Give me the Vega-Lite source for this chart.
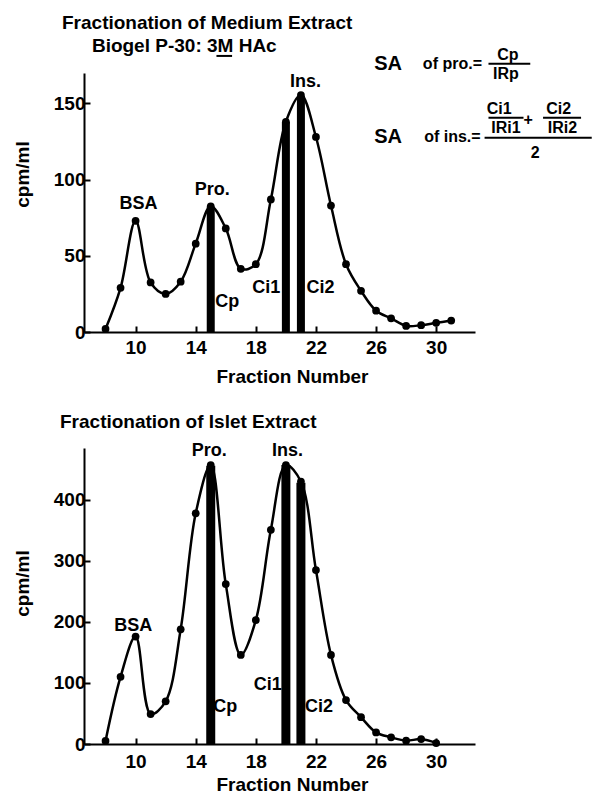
{
  "$schema": "https://vega.github.io/schema/vega-lite/v6.json",
  "background": "white",
  "padding": {"left": 13, "top": 13, "right": 0, "bottom": 0},
  "spacing": 27,
  "config": {
    "font": "Liberation Sans",
    "view": {"stroke": null},
    "axis": {
      "grid": false,
      "domainColor": "black", "domainWidth": 2,
      "tickColor": "black", "tickWidth": 2, "tickSize": -6,
      "labelColor": "black", "labelFont": "Liberation Sans", "labelFontWeight": "bold", "labelFontSize": 19,
      "titleColor": "black", "titleFont": "Liberation Sans", "titleFontWeight": "bold", "titleFontSize": 19
    },
    "title": {"font": "Liberation Sans", "fontWeight": "bold", "fontSize": 19, "color": "black", "anchor": "start", "frame": "group"},
    "text": {"font": "Liberation Sans", "fontWeight": "bold", "color": "black"}
  },
  "datasets": {
    "medium": [
      {"fraction": 8, "cpm": 2}, {"fraction": 9, "cpm": 29}, {"fraction": 10, "cpm": 73},
      {"fraction": 11, "cpm": 32.5}, {"fraction": 12, "cpm": 25}, {"fraction": 13, "cpm": 33},
      {"fraction": 14, "cpm": 58}, {"fraction": 15, "cpm": 82.5}, {"fraction": 16, "cpm": 68},
      {"fraction": 17, "cpm": 41.5}, {"fraction": 18, "cpm": 44.5}, {"fraction": 19, "cpm": 87},
      {"fraction": 20, "cpm": 138}, {"fraction": 21, "cpm": 155.5}, {"fraction": 22, "cpm": 128},
      {"fraction": 23, "cpm": 83}, {"fraction": 24, "cpm": 44.5}, {"fraction": 25, "cpm": 27},
      {"fraction": 26, "cpm": 14}, {"fraction": 27, "cpm": 9}, {"fraction": 28, "cpm": 4},
      {"fraction": 29, "cpm": 4.5}, {"fraction": 30, "cpm": 6}, {"fraction": 31, "cpm": 7.5}
    ],
    "medium_bars": [
      {"fraction": 15, "cpm": 82}, {"fraction": 20, "cpm": 138}, {"fraction": 21, "cpm": 155}
    ],
    "medium_labels": [
      {"fraction": 10.2, "cpm": 84, "label": "BSA"},
      {"fraction": 15.1, "cpm": 93, "label": "Pro."},
      {"fraction": 21.3, "cpm": 164, "label": "Ins."},
      {"fraction": 16.1, "cpm": 20, "label": "Cp"},
      {"fraction": 18.7, "cpm": 29, "label": "Ci1"},
      {"fraction": 22.3, "cpm": 29, "label": "Ci2"}
    ],
    "formula_text": [
      {"fraction": 31.08, "cpm": 176, "label": "of pro.="},
      {"fraction": 34.77, "cpm": 181.5, "label": "Cp"},
      {"fraction": 34.64, "cpm": 169.2, "label": "IRp"},
      {"fraction": 31.08, "cpm": 128.2, "label": "of ins.="},
      {"fraction": 34.19, "cpm": 146.5, "label": "Ci1"},
      {"fraction": 34.64, "cpm": 134.1, "label": "IRi1"},
      {"fraction": 36.12, "cpm": 139.3, "label": "+"},
      {"fraction": 38.15, "cpm": 146.5, "label": "Ci2"},
      {"fraction": 38.4, "cpm": 134.1, "label": "IRi2"},
      {"fraction": 36.59, "cpm": 117.7, "label": "2"}
    ],
    "formula_sa": [
      {"fraction": 26.8, "cpm": 176, "label": "SA"},
      {"fraction": 26.8, "cpm": 128.2, "label": "SA"}
    ],
    "formula_rules": [
      {"fraction": 33.48, "fraction2": 36.26, "cpm": 176},
      {"fraction": 33.48, "fraction2": 35.81, "cpm": 140.6},
      {"fraction": 37.11, "fraction2": 39.64, "cpm": 140.6},
      {"fraction": 33.22, "fraction2": 40.35, "cpm": 127.5},
      {"fraction": 15.38, "fraction2": 16.42, "cpm": 181.2}
    ],
    "subtitle": [
      {"fraction": 13.24, "cpm": 188, "label": "Biogel P-30: 3M HAc"}
    ],
    "islet": [
      {"fraction": 8, "cpm": 5}, {"fraction": 9, "cpm": 110}, {"fraction": 10, "cpm": 176},
      {"fraction": 11, "cpm": 49}, {"fraction": 12, "cpm": 70}, {"fraction": 13, "cpm": 188},
      {"fraction": 14, "cpm": 378}, {"fraction": 15, "cpm": 457}, {"fraction": 16, "cpm": 262},
      {"fraction": 17, "cpm": 146}, {"fraction": 18, "cpm": 203}, {"fraction": 19, "cpm": 351},
      {"fraction": 20, "cpm": 457}, {"fraction": 21, "cpm": 430}, {"fraction": 22, "cpm": 285},
      {"fraction": 23, "cpm": 146}, {"fraction": 24, "cpm": 72}, {"fraction": 25, "cpm": 44},
      {"fraction": 26, "cpm": 19}, {"fraction": 27, "cpm": 11}, {"fraction": 28, "cpm": 5.5},
      {"fraction": 29, "cpm": 8}, {"fraction": 30, "cpm": 1.5}
    ],
    "islet_bars": [
      {"fraction": 15, "cpm": 456}, {"fraction": 20, "cpm": 457}, {"fraction": 21, "cpm": 428}
    ],
    "islet_labels": [
      {"fraction": 9.84, "cpm": 193, "label": "BSA"},
      {"fraction": 14.9, "cpm": 480, "label": "Pro."},
      {"fraction": 20.1, "cpm": 480, "label": "Ins."},
      {"fraction": 15.97, "cpm": 60, "label": "Cp"},
      {"fraction": 18.8, "cpm": 97, "label": "Ci1"},
      {"fraction": 22.2, "cpm": 60, "label": "Ci2"}
    ]
  },
  "vconcat": [
    {
      "width": 391,
      "height": 259,
      "title": {"text": "Fractionation of Medium Extract", "dx": -22, "offset": 4},
      "encoding": {
        "x": {"field": "fraction", "type": "quantitative",
              "scale": {"domain": [6.9, 32.25], "nice": false, "zero": false},
              "axis": {"values": [10, 14, 18, 22, 26, 30], "title": "Fraction Number", "titleX": 208, "labelPadding": 12, "titlePadding": 10}},
        "y": {"field": "cpm", "type": "quantitative",
              "scale": {"domain": [0, 170], "nice": false},
              "axis": {"values": [0, 50, 100, 150], "title": "cpm/ml", "titleX": -52, "titleY": 101, "labelPadding": 5}}
      },
      "layer": [
        {"data": {"name": "medium_bars"}, "mark": {"type": "bar", "size": 8, "color": "black"}},
        {"data": {"name": "medium"}, "mark": {"type": "line", "interpolate": "catmull-rom", "color": "black", "strokeWidth": 2.5}},
        {"data": {"name": "medium"}, "mark": {"type": "circle", "size": 60, "color": "black", "opacity": 1}},
        {"data": {"name": "medium_labels"}, "mark": {"type": "text", "fontSize": 18, "baseline": "middle"}, "encoding": {"text": {"field": "label"}}},
        {"data": {"name": "formula_text"}, "mark": {"type": "text", "fontSize": 16, "baseline": "middle"}, "encoding": {"text": {"field": "label"}}},
        {"data": {"name": "formula_sa"}, "mark": {"type": "text", "fontSize": 20, "baseline": "middle"}, "encoding": {"text": {"field": "label"}}},
        {"data": {"name": "subtitle"}, "mark": {"type": "text", "fontSize": 19, "baseline": "middle"}, "encoding": {"text": {"field": "label"}}},
        {"data": {"name": "formula_rules"}, "mark": {"type": "rule", "strokeWidth": 2, "color": "black"}, "encoding": {"x2": {"field": "fraction2"}}}
      ]
    },
    {
      "width": 391,
      "height": 296,
      "title": {"text": "Fractionation of Islet Extract", "dx": -24, "offset": 10},
      "encoding": {
        "x": {"field": "fraction", "type": "quantitative",
              "scale": {"domain": [6.9, 32.25], "nice": false, "zero": false},
              "axis": {"values": [10, 14, 18, 22, 26, 30], "title": "Fraction Number", "titleX": 208, "labelPadding": 14, "titlePadding": 4}},
        "y": {"field": "cpm", "type": "quantitative",
              "scale": {"domain": [0, 485], "nice": false},
              "axis": {"values": [0, 100, 200, 300, 400], "title": "cpm/ml", "titleX": -52, "titleY": 135, "labelPadding": 5}}
      },
      "layer": [
        {"data": {"name": "islet_bars"}, "mark": {"type": "bar", "size": 9, "color": "black"}},
        {"data": {"name": "islet"}, "mark": {"type": "line", "interpolate": "catmull-rom", "color": "black", "strokeWidth": 2.5}},
        {"data": {"name": "islet"}, "mark": {"type": "circle", "size": 60, "color": "black", "opacity": 1}},
        {"data": {"name": "islet_labels"}, "mark": {"type": "text", "fontSize": 18, "baseline": "middle"}, "encoding": {"text": {"field": "label"}}}
      ]
    }
  ]
}
